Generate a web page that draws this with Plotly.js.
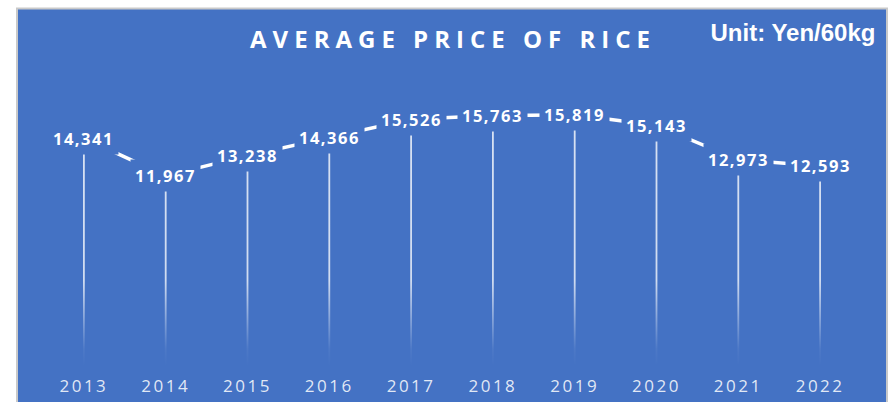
<!DOCTYPE html>
<html>
<head>
<meta charset="utf-8">
<script src="https://cdn.plot.ly/plotly-3.0.1.min.js"></script>
<style>
  html, body { margin: 0; padding: 0; background: #ffffff; }
  #chart { width: 889px; height: 402px; }
  .gtitle { letter-spacing: 6px; }
  .annotation-text { letter-spacing: 1.5px; }
  .xtick text { letter-spacing: 2.5px; }
</style>
</head>
<body>
<div id="chart"></div>
<script>
// ---- data ----
const years  = ['2013','2014','2015','2016','2017','2018','2019','2020','2021','2022'];
const prices = [14341, 11967, 13238, 14366, 15526, 15763, 15819, 15143, 12973, 12593];
const chartTitle = 'AVERAGE PRICE OF RICE';
const unitLabel  = 'Unit: Yen/60kg';

// ---- derived ----
const BLUE = '#4472C4';
const idx = years.map((_, i) => i);

// thin drop-line rectangles from 0 up to each value (gaps separate them)
const halfW = 0.011;
const dropX = [], dropY = [];
idx.forEach((i) => {
  const v = prices[i];
  dropX.push(i - halfW, i + halfW, i + halfW, i - halfW, i - halfW, null);
  dropY.push(0, 0, v, v, 0, null);
});

const dropTrace = {
  type: 'scatter', mode: 'none',
  x: dropX, y: dropY,
  fill: 'toself',
  fillcolor: 'rgba(255,255,255,0.75)',
  fillgradient: {
    type: 'vertical',
    start: 0, stop: 18000,
    colorscale: [[0, 'rgba(255,255,255,0)'], [0.06, 'rgba(255,255,255,0.05)'], [0.3, 'rgba(255,255,255,0.75)'], [1, 'rgba(255,255,255,0.8)']]
  },
  hoverinfo: 'skip', showlegend: false
};

const lineTrace = {
  type: 'scatter', mode: 'lines',
  x: idx, y: prices,
  line: { color: '#ffffff', width: 3.5 },
  hoverinfo: 'skip', showlegend: false
};

const fmt = (v) => v.toLocaleString('en-US');

const valueAnnotations = idx.map((i) => ({
  x: i, y: prices[i], xref: 'x', yref: 'y',
  text: fmt(prices[i]),
  showarrow: false,
  bgcolor: BLUE,
  borderpad: 4,
  font: { family: 'Open Sans', size: 16.5, color: '#ffffff', weight: 700 },
  xanchor: 'center', yanchor: 'middle',
  captureevents: false
}));

const unitAnnotation = {
  xref: 'paper', yref: 'paper',
  x: (793 - 43) / 818, y: (366 - 33) / 286,
  xanchor: 'center', yanchor: 'middle',
  text: unitLabel, showarrow: false,
  font: { family: 'Liberation Sans', size: 24, color: '#ffffff', weight: 700 }
};

const layout = {
  width: 889, height: 402, autosize: false,
  margin: { l: 43, r: 28, t: 80, b: 36, pad: 0 },
  paper_bgcolor: '#ffffff',
  plot_bgcolor: 'rgba(0,0,0,0)',
  title: {
    text: chartTitle,
    xref: 'container', yref: 'container',
    x: 453 / 889, xanchor: 'center',
    y: 1 - 40 / 402, yanchor: 'middle',
    font: { family: 'Open Sans', size: 24, color: '#ffffff', weight: 700 }
  },
  xaxis: {
    range: [-0.5, 9.5],
    tickmode: 'array', tickvals: idx, ticktext: years,
    showgrid: false, zeroline: false, showline: false, ticks: '',
    tickfont: { family: 'Open Sans', size: 17, color: 'rgba(255,255,255,0.85)' },
    ticklabelstandoff: 8,
    fixedrange: true
  },
  yaxis: {
    range: [0, 18000],
    visible: false, showgrid: false, zeroline: false,
    fixedrange: true
  },
  shapes: [{
    type: 'rect', xref: 'paper', yref: 'paper', layer: 'below',
    x0: (17 - 43) / 818, x1: (887 - 43) / 818,
    y0: -0.3, y1: (366 - 8.5) / 286,
    fillcolor: BLUE,
    line: { color: '#c9c9c9', width: 2 }
  }],
  annotations: valueAnnotations.concat([unitAnnotation]),
  showlegend: false
};

Plotly.newPlot('chart', [dropTrace, lineTrace], layout, { displayModeBar: false, staticPlot: true }).then(() => {
  // the unit label uses normal spacing
  const unit = document.querySelector('.annotation[data-index="' + valueAnnotations.length + '"] .annotation-text');
  if (unit) unit.style.letterSpacing = '0px';
});
</script>
</body>
</html>
